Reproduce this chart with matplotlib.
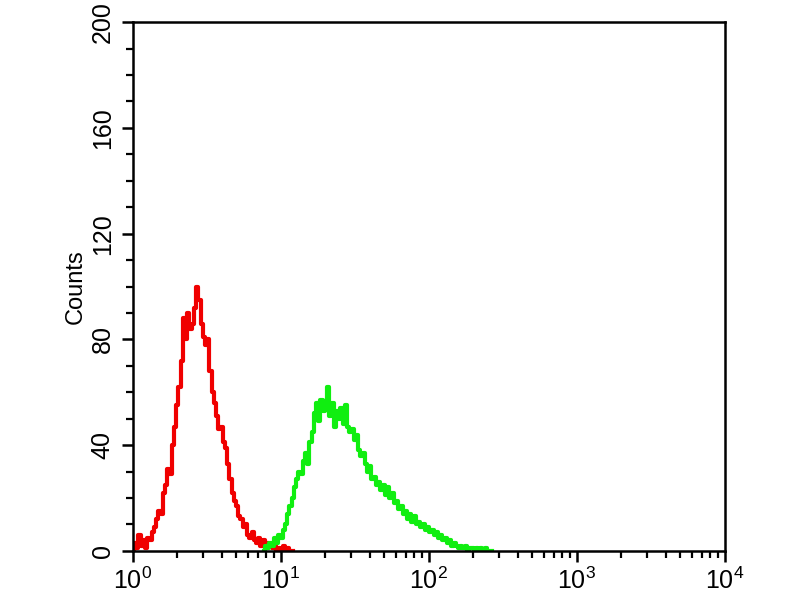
import numpy as np
import matplotlib
matplotlib.use("Agg")
import matplotlib.pyplot as plt
from matplotlib.ticker import FixedLocator, MultipleLocator, LogFormatterMathtext

plt.rcParams['font.family'] = ['Liberation Sans', 'DejaVu Sans']
plt.rcParams['mathtext.fontset'] = 'custom'
plt.rcParams['mathtext.rm'] = 'Liberation Sans'
plt.rcParams['mathtext.it'] = 'Liberation Sans'

# channel spacing in decades, and first channel (log10) of each histogram
step = 0.015
red_start = 0.0
green_start = 0.885

# counts per channel
red_counts = [0, 3, 1, 6, 2, 4, 1, 5, 4, 7, 9, 12, 15, 14, 22, 25, 31, 29, 40, 47,
              55, 62, 72, 88, 80, 90, 84, 86, 92, 100, 95, 86, 81, 78, 80, 68, 60, 56,
              51, 46, 47, 41, 39, 33, 27, 22, 19, 17, 13, 12, 9, 10, 6, 5, 7, 4, 3, 5,
              2, 4, 1, 3, 2, 1, 2, 0, 1, 0, 2, 0, 1, 0, 0]
green_counts = [0, 2, 1, 3, 2, 5, 3, 6, 5, 8, 10, 14, 17, 20, 24, 27, 30, 29, 34, 37,
                33, 41, 45, 52, 56, 49, 57, 53, 55, 62, 51, 56, 47, 53, 50, 54, 48, 55,
                47, 45, 46, 42, 44, 38, 36, 37, 33, 30, 32, 27, 28, 25, 26, 23, 25, 21,
                24, 20, 22, 18, 19, 16, 17, 14, 15, 12, 14, 11, 13, 10, 11, 9, 10, 8, 9,
                7, 8, 6, 7, 5, 6, 4, 5, 3, 4, 2, 3, 2, 1, 2, 1, 2, 0, 1, 1, 0, 1, 0, 1,
                0, 1, 0, 0, 0]

red_x = 10 ** (red_start + step * np.arange(len(red_counts)))
green_x = 10 ** (green_start + step * np.arange(len(green_counts)))

fig = plt.figure(figsize=(8, 6), dpi=100)
ax = fig.add_axes([0.166, 0.082, 0.74, 0.881])

ax.step(red_x, red_counts, where='mid', color='#f00000', lw=3.0)
ax.step(green_x, green_counts, where='mid', color='#10ee10', lw=3.0)

ax.set_xscale('log')
ax.set_xlim(1, 1e4)
ax.set_ylim(0, 200)

ax.xaxis.set_major_locator(FixedLocator([1, 10, 100, 1000, 10000]))
ax.xaxis.set_major_formatter(LogFormatterMathtext())
ax.yaxis.set_major_locator(MultipleLocator(40))
ax.yaxis.set_minor_locator(MultipleLocator(10))

for s in ax.spines.values():
    s.set_linewidth(1.8)

ax.tick_params(which='major', direction='out', length=8, width=1.8, labelsize=18)
ax.tick_params(which='minor', direction='out', length=5, width=1.6)
ax.tick_params(axis='y', pad=5)
ax.tick_params(axis='x', pad=4)
for lbl in ax.get_yticklabels():
    lbl.set_rotation(90)
    lbl.set_va('center')

ax.set_ylabel('Counts', fontsize=17, labelpad=3)

fig.savefig('out.png', dpi=100)
